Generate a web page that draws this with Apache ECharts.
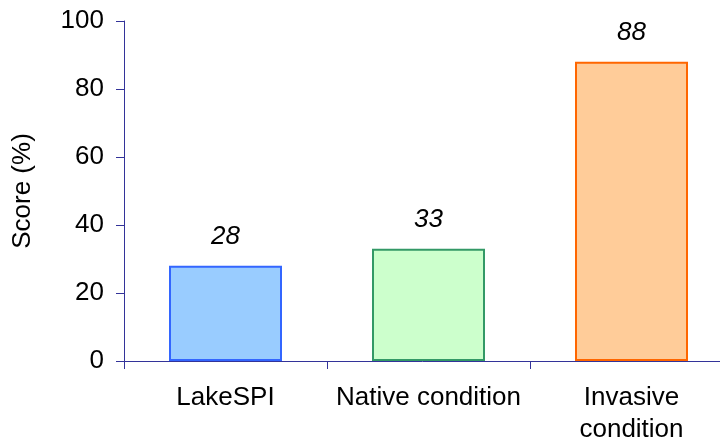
<!DOCTYPE html>
<html>
<head>
<meta charset="utf-8">
<script src="https://cdn.jsdelivr.net/npm/echarts@6/dist/echarts.min.js"></script>
<style>
html, body { margin: 0; padding: 0; background: #fff; }
#chart { width: 720px; height: 443px; }
</style>
</head>
<body>
<div id="chart"></div>
<script>
var categories = ['LakeSPI', 'Native condition', 'Invasive\ncondition'];
var scores = [28, 33, 88];
var fillColors = ['#99CCFF', '#CCFFCC', '#FFCC99'];
var borderColors = ['#3366FF', '#339966', '#FF6600'];

var font = '"Liberation Sans", Arial, sans-serif';
var axisColor = '#333399';

var chart = echarts.init(document.getElementById('chart'));
chart.setOption({
  animation: false,
  grid: { left: 124, right: -13, top: 21, bottom: 82, outerBoundsMode: 'none', containLabel: false },
  xAxis: {
    type: 'category',
    z: 5,
    data: categories,
    axisLine: { lineStyle: { color: axisColor, width: 1 } },
    axisTick: { show: true, length: 8, alignWithLabel: false, lineStyle: { color: axisColor } },
    axisLabel: {
      color: '#000', fontFamily: font, fontSize: 26, margin: 21, lineHeight: 32, interval: 0
    }
  },
  yAxis: {
    type: 'value',
    min: 0, max: 100, interval: 20,
    name: 'Score (%)',
    nameLocation: 'middle',
    nameGap: 88,
    nameTextStyle: { color: '#000', fontFamily: font, fontSize: 26 },
    axisLine: { show: true, lineStyle: { color: axisColor, width: 1 } },
    axisTick: { show: true, length: 8, lineStyle: { color: axisColor } },
    splitLine: { show: false },
    axisLabel: { color: '#000', fontFamily: font, fontSize: 26, margin: 20 }
  },
  series: [{
    type: 'bar',
    barWidth: 113,
    data: scores.map(function (v, i) {
      return {
        value: v,
        itemStyle: { color: fillColors[i], borderColor: borderColors[i], borderWidth: 2 }
      };
    }),
    label: {
      show: true, position: 'top', distance: 16,
      color: '#000', fontFamily: font, fontSize: 26, fontStyle: 'italic'
    }
  }]
});
</script>
</body>
</html>
